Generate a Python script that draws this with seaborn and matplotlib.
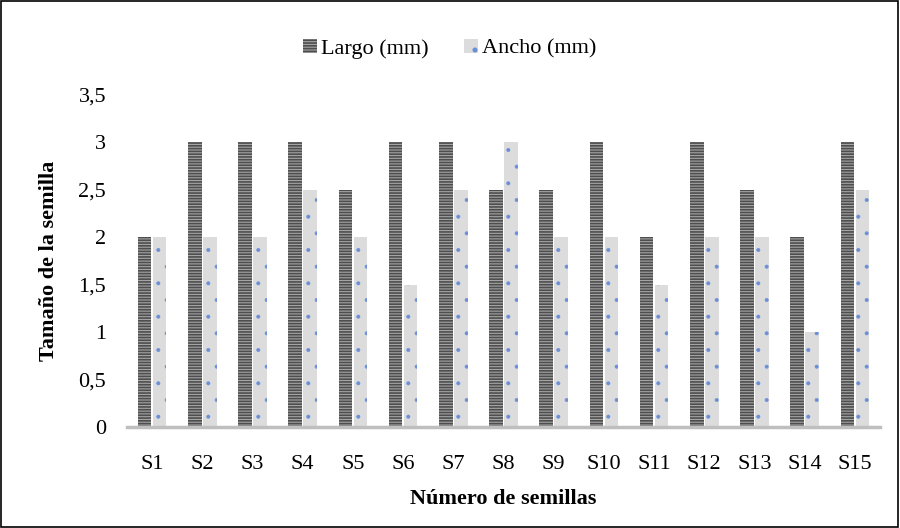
import matplotlib
matplotlib.use("Agg")
import matplotlib.pyplot as plt
import seaborn as sns
import pandas as pd
from matplotlib.patches import Rectangle

categorias = ["S1", "S2", "S3", "S4", "S5", "S6", "S7", "S8", "S9", "S10",
              "S11", "S12", "S13", "S14", "S15"]
largo = [2, 3, 3, 3, 2.5, 3, 3, 2.5, 2.5, 3, 2, 3, 2.5, 2, 3]
ancho = [2, 2, 2, 2.5, 2, 1.5, 2.5, 3, 2, 2, 1.5, 2, 2, 1, 2.5]
series = ["Largo (mm)", "Ancho (mm)"]
yticks = [0, 0.5, 1, 1.5, 2, 2.5, 3, 3.5]
ytick_labels = ["0", "0,5", "1", "1,5", "2", "2,5", "3", "3,5"]

df = pd.DataFrame({
    "Semilla": categorias * 2,
    "Valor": largo + ancho,
    "Serie": [series[0]] * len(categorias) + [series[1]] * len(categorias),
})

sns.set_theme(style="white")
plt.rcParams["font.family"] = ["Liberation Serif", "DejaVu Serif"]
plt.rcParams["hatch.linewidth"] = 1.2
plt.rcParams["text.color"] = "black"
plt.rcParams["axes.labelcolor"] = "black"

fig = plt.figure(figsize=(9, 5.28), dpi=100)
ax = fig.add_axes([127 / 900, 1 - 427 / 528, (880 - 127) / 900, (427 - 95) / 528])

sns.barplot(data=df, x="Semilla", y="Valor", hue="Serie", ax=ax,
            palette=["#6e6e6e", "#d9d9d9"], width=0.6, gap=0.1,
            saturation=1, legend=False)

styles = {
    series[0]: dict(facecolor="#a4a4a4", hatch="------", edgecolor="#4e4e4e"),
    series[1]: dict(facecolor="#dcdcdc", hatch=".", edgecolor="#6a8fd8"),
}
n = len(categorias)
for i, bar in enumerate(ax.patches[:2 * n]):
    st = styles[series[0]] if i < n else styles[series[1]]
    bar.set_facecolor(st["facecolor"])
    bar.set_hatch(st["hatch"])
    bar.set_edgecolor(st["edgecolor"])
    bar.set_linewidth(0)
    if i >= n and hasattr(bar, "set_hatch_linewidth"):
        bar.set_hatch_linewidth(0.4)

fs = 16
ax.set_ylim(0, 3.5)
ax.set_yticks(yticks)
ax.set_yticklabels(ytick_labels)
ax.set_xlim(-0.5, n - 0.5)
ax.tick_params(axis="both", length=0, labelsize=fs, colors="black")
ax.tick_params(axis="y", pad=15)
ax.tick_params(axis="x", pad=20)
for s in ["top", "right", "left"]:
    ax.spines[s].set_visible(False)
ax.spines["bottom"].set_color("#bfbfbf")
ax.spines["bottom"].set_linewidth(2.5)

ax.set_xlabel("Número de semillas", fontsize=fs, fontweight="bold", labelpad=11,
              color="black")
ax.set_ylabel("Tamaño de la semilla", fontsize=fs, fontweight="bold", labelpad=14,
              color="black")

handles = [Rectangle((0, 0), 1, 1, facecolor=styles[s]["facecolor"],
                     hatch=styles[s]["hatch"], edgecolor=styles[s]["edgecolor"],
                     linewidth=0) for s in series]
fig.legend(handles, series, loc="center", bbox_to_anchor=(0.5, 1 - 49 / 528),
           ncol=2, frameon=False, fontsize=fs, handlelength=0.6,
           handleheight=0.6, handletextpad=0.2, columnspacing=1.6,
           labelcolor="black")

fig.patches.append(Rectangle((0.001, 0.002), 0.997, 0.996, transform=fig.transFigure,
                             fill=False, edgecolor="black", linewidth=1.2))

fig.savefig("out.png", dpi=100)
